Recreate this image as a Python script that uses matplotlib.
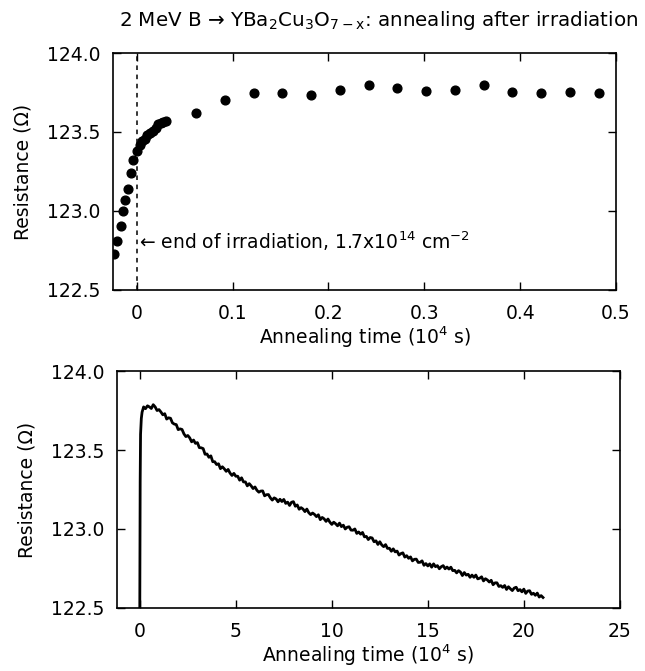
import matplotlib
matplotlib.use("Agg")
import matplotlib.pyplot as plt
import numpy as np

# top panel: annealing data just after irradiation (10^4 s, Ohm)
top_t = [-0.024, -0.021, -0.017, -0.0146, -0.012, -0.009, -0.006, -0.0035, 0.0, 0.003,
         0.0055, 0.0083, 0.011, 0.014, 0.0167, 0.0195, 0.0223, 0.025, 0.0278, 0.0306,
         0.062, 0.092, 0.122, 0.152, 0.182, 0.212, 0.242, 0.272, 0.302, 0.332,
         0.362, 0.392, 0.422, 0.452, 0.482]
top_r = [122.73, 122.81, 122.905, 123.0, 123.07, 123.14, 123.24, 123.32, 123.38, 123.42,
         123.44, 123.458, 123.483, 123.496, 123.508, 123.525, 123.55, 123.559, 123.563, 123.567,
         123.62, 123.70, 123.745, 123.745, 123.734, 123.766, 123.795, 123.778, 123.761, 123.766,
         123.797, 123.753, 123.749, 123.755, 123.749]

# bottom panel: long-time recording (rise, then samples every 0.1 from 0.2)
rise_t = [0.0, 0.02, 0.04, 0.08, 0.12]
rise_r = [122.50, 123.30, 123.60, 123.70, 123.74]
rec_t0, rec_dt = 0.2, 0.1
rec_r = [
    123.773, 123.762, 123.780, 123.773, 123.763, 123.787, 123.773, 123.750, 123.756, 123.741,
    123.723, 123.730, 123.696, 123.704, 123.701, 123.672, 123.664, 123.661, 123.629, 123.634,
    123.630, 123.602, 123.585, 123.592, 123.577, 123.552, 123.563, 123.542, 123.547, 123.515,
    123.514, 123.509, 123.473, 123.475, 123.454, 123.463, 123.426, 123.426, 123.408, 123.413,
    123.382, 123.394, 123.381, 123.365, 123.377, 123.354, 123.339, 123.352, 123.334, 123.334,
    123.309, 123.324, 123.298, 123.298, 123.273, 123.287, 123.273, 123.256, 123.266, 123.245,
    123.233, 123.240, 123.241, 123.210, 123.217, 123.218, 123.197, 123.183, 123.197, 123.190,
    123.172, 123.188, 123.174, 123.187, 123.162, 123.170, 123.149, 123.169, 123.173, 123.144,
    123.152, 123.125, 123.135, 123.126, 123.110, 123.126, 123.103, 123.091, 123.101, 123.092,
    123.078, 123.090, 123.059, 123.073, 123.064, 123.048, 123.063, 123.043, 123.029, 123.043,
    123.033, 123.020, 123.037, 123.015, 123.024, 123.000, 123.011, 123.014, 122.993, 122.992,
    123.000, 122.972, 122.981, 122.967, 122.978, 122.950, 122.953, 122.933, 122.946, 122.943,
    122.919, 122.925, 122.902, 122.919, 122.899, 122.888, 122.901, 122.877, 122.878, 122.859,
    122.874, 122.855, 122.860, 122.835, 122.844, 122.849, 122.822, 122.831, 122.814, 122.823,
    122.798, 122.808, 122.809, 122.788, 122.789, 122.798, 122.770, 122.781, 122.766, 122.779,
    122.758, 122.779, 122.761, 122.768, 122.748, 122.761, 122.768, 122.748, 122.759, 122.746,
    122.758, 122.736, 122.738, 122.722, 122.736, 122.727, 122.705, 122.724, 122.708, 122.713,
    122.694, 122.708, 122.694, 122.708, 122.684, 122.688, 122.697, 122.671, 122.685, 122.677,
    122.664, 122.675, 122.647, 122.659, 122.659, 122.636, 122.641, 122.630, 122.642, 122.617,
    122.634, 122.621, 122.610, 122.626, 122.631, 122.609, 122.616, 122.602, 122.619, 122.592,
    122.607, 122.609, 122.586, 122.593, 122.580, 122.594, 122.569, 122.578, 122.566,
]

top_xticks = [0, 0.1, 0.2, 0.3, 0.4, 0.5]
top_xlabels = ["0", "0.1", "0.2", "0.3", "0.4", "0.5"]
bot_xticks = [0, 5, 10, 15, 20, 25]
yticks = [122.5, 123.0, 123.5, 124.0]

plt.rcParams['font.family'] = ['DejaVu Sans']
plt.rcParams['mathtext.fontset'] = 'dejavusans'
fs = 13.5

fig = plt.figure(figsize=(6.45, 6.71), dpi=100)
ax1 = fig.add_axes([0.175, 0.568, 0.780, 0.353])
ax2 = fig.add_axes([0.181, 0.094, 0.780, 0.353])

# top panel
ax1.plot(top_t, top_r, 'o', color='black', markersize=6.3)
ax1.axvline(0, color='black', linestyle=(0, (3, 3)), linewidth=1.1)
ax1.text(0.002, 122.81, "\u2190 end of irradiation, 1.7x10$^{14}$ cm$^{-2}$",
         va='center', ha='left', fontsize=fs)
ax1.set_xlim(-0.025, 0.5)
ax1.set_xticks(top_xticks)
ax1.set_xticklabels(top_xlabels)

# bottom panel
rec_t = rec_t0 + rec_dt * np.arange(len(rec_r))
t_all = np.concatenate([rise_t, rec_t])
r_all = np.concatenate([rise_r, rec_r])
ax2.plot(t_all, r_all, '-', color='black', linewidth=2.0)
ax2.set_xlim(-1.2, 25)
ax2.set_xticks(bot_xticks)

for ax in (ax1, ax2):
    ax.set_ylim(122.5, 124.0)
    ax.set_yticks(yticks)
    ax.set_yticklabels([f"{v:.1f}" for v in yticks])
    ax.tick_params(direction='in', top=True, right=True, length=6, width=1.0,
                   labelsize=fs)
    ax.tick_params(axis='x', pad=10)
    ax.tick_params(axis='y', pad=9)
    for s in ax.spines.values():
        s.set_linewidth(1.2)
    ax.set_xlabel("Annealing time (10$^4$ s)", fontsize=fs, labelpad=1)
    ax.set_ylabel("Resistance (\u03a9)", fontsize=fs, labelpad=10)

fig.text(379 / 645, 1 - 20 / 671,
         "2 MeV B \u2192 YBa$_2$Cu$_3$O$_{7-\\mathrm{x}}$: annealing after irradiation",
         ha='center', va='center', fontsize=14.3)

fig.savefig("out.png", dpi=100)
